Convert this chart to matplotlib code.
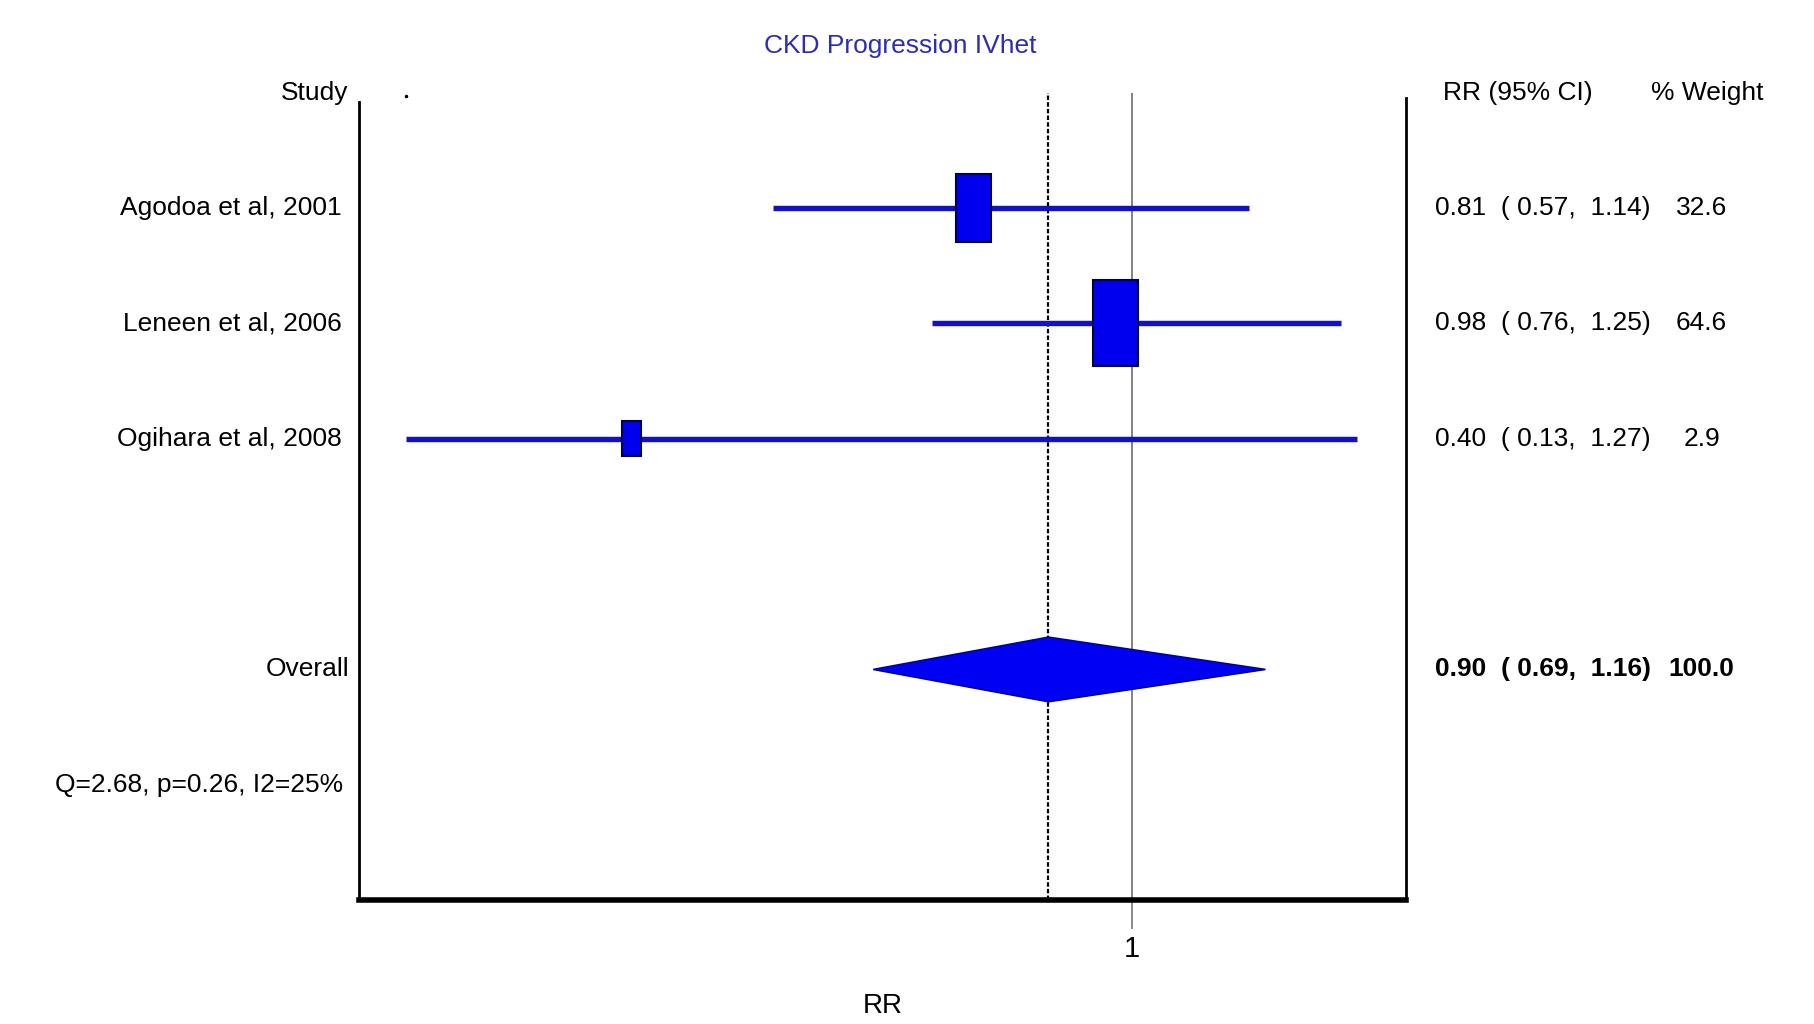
import numpy as np
import matplotlib
matplotlib.use("Agg")
import matplotlib.pyplot as plt
from matplotlib.patches import Rectangle, Polygon
from matplotlib.transforms import blended_transform_factory

plt.rcParams['font.family'] = ['Liberation Sans', 'DejaVu Sans']

# data
studies = ["Agodoa et al, 2001", "Leneen et al, 2006", "Ogihara et al, 2008"]
rr = [0.81, 0.98, 0.40]
ci_low = [0.57, 0.76, 0.13]
ci_high = [1.14, 1.25, 1.27]
weights = [32.6, 64.6, 2.9]

overall_rr = 0.90
overall_low = 0.69
overall_high = 1.16
overall_weight = 100.0
het_text = "Q=2.68, p=0.26, I2=25%"
title = "CKD Progression IVhet"

study_rows = [1, 2, 3]
overall_row = 5
het_row = 6

fig = plt.figure(figsize=(18.15, 10.24), dpi=100)
ax = fig.add_axes([0.1977, 0.1209, 0.5772, 0.7887])
ax.set_xlim(0.0735, 1.329)
ax.set_ylim(7, 0)

line_col = '#1212c4'
box_col = '#0000ee'
fs = 19

# reference lines
ax.axvline(1.0, color='#777777', lw=1.3, zorder=1)
ax.axvline(overall_rr, color='black', lw=1.6, ls=(0, (2, 1)), zorder=1)

# box size grows with sqrt(weight)
def box_px(w):
    return 18.8 + 6.87 * np.sqrt(w)

for yrow, m, lo, hi, w in zip(study_rows, rr, ci_low, ci_high, weights):
    ax.plot([lo, hi], [yrow, yrow], color=line_col, lw=3.9, solid_capstyle='butt', zorder=2)
    h = box_px(w) / 99.7
    bw = 0.53 * box_px(w) / 720.7
    ax.add_patch(Rectangle((m - bw / 2, yrow - h / 2), bw, h, facecolor=box_col,
                           edgecolor='#000044', lw=1.5, zorder=3))

# overall diamond
dh = 0.28
ax.add_patch(Polygon([(overall_low, overall_row), (overall_rr, overall_row - dh),
                      (overall_high, overall_row), (overall_rr, overall_row + dh)],
                     closed=True, facecolor='#0000f2', edgecolor='#0000a0', lw=1.2, zorder=3))

# small mark at top-left as in the original
ax.plot([min(ci_low)], [0.03], 'k.', ms=3, clip_on=False)

# axes styling
ax.spines['top'].set_visible(False)
ax.spines['left'].set_linewidth(2.0)
ax.spines['right'].set_linewidth(2.0)
ax.spines['bottom'].set_linewidth(4.0)
ax.spines['left'].set_bounds(7, 0.08)
ax.spines['right'].set_bounds(7, 0.05)
ax.set_yticks([])
ax.set_xticks([1])
ax.set_xticklabels(['1'])
ax.tick_params(axis='x', length=21, width=1.2, color='#777777', labelsize=fs + 2, pad=4)

# text columns
tr = blended_transform_factory(fig.transFigure, ax.transData)
fig.text(0.496, 0.955, title, color='#2d2db3', fontsize=fs, ha='center', va='center')
ax.text(0.192, 0, "Study", transform=tr, ha='right', va='center', fontsize=fs)
ax.text(0.7953, 0, "RR (95% CI)", transform=tr, ha='left', va='center', fontsize=fs)
ax.text(0.9407, 0, "% Weight", transform=tr, ha='center', va='center', fontsize=fs)

for yrow, name, m, lo, hi, w in zip(study_rows, studies, rr, ci_low, ci_high, weights):
    ax.text(0.1881, yrow, name, transform=tr, ha='right', va='center', fontsize=fs)
    ax.text(0.7908, yrow, f"{m:.2f}  ( {lo:.2f},  {hi:.2f})", transform=tr,
            ha='left', va='center', fontsize=fs)
    ax.text(0.9375, yrow, f"{w:.1f}", transform=tr, ha='center', va='center', fontsize=fs)

ax.text(0.1925, overall_row, "Overall", transform=tr, ha='right', va='center', fontsize=fs)
ax.text(0.7908, overall_row, f"{overall_rr:.2f}  ( {overall_low:.2f},  {overall_high:.2f})",
        transform=tr, ha='left', va='center', fontsize=fs, fontweight='bold')
ax.text(0.9375, overall_row, f"{overall_weight:.1f}", transform=tr, ha='center',
        va='center', fontsize=fs, fontweight='bold')
ax.text(0.189, het_row, het_text, transform=tr, ha='right', va='center', fontsize=fs)

fig.text(0.4866, 0.018, "RR", ha='center', va='center', fontsize=fs + 1)

fig.savefig("out.png", dpi=100, facecolor='white')
